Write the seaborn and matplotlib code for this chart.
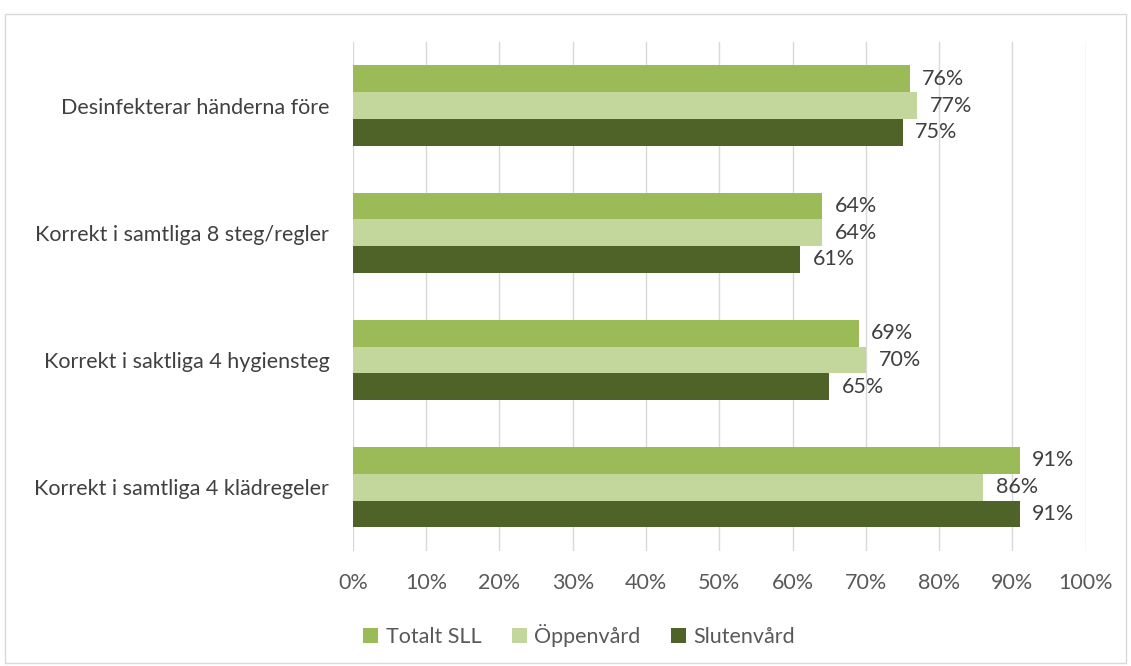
import matplotlib
matplotlib.use("Agg")
import matplotlib.pyplot as plt
import seaborn as sns
import pandas as pd
from matplotlib.patches import Rectangle

categories = ["Desinfekterar händerna före", "Korrekt i samtliga 8 steg/regler",
              "Korrekt i saktliga 4 hygiensteg", "Korrekt i samtliga 4 klädregeler"]
series = ["Totalt SLL", "Öppenvård", "Slutenvård"]
totalt = [76, 64, 69, 91]
oppen = [77, 64, 70, 86]
sluten = [75, 61, 65, 91]
colors = ["#9BBB59", "#C3D69B", "#4F6228"]
xticks = [0, 10, 20, 30, 40, 50, 60, 70, 80, 90, 100]

rows = []
for s, vals in zip(series, [totalt, oppen, sluten]):
    for c, v in zip(categories, vals):
        rows.append({"cat": c, "series": s, "value": v})
df = pd.DataFrame(rows)

sns.set_theme(style="white")
plt.rcParams['font.family'] = ['Lato', 'DejaVu Sans']

FS = 15.5
fig = plt.figure(figsize=(11.31, 6.66), dpi=100)
ax = fig.add_axes([0.312, 0.173, 0.648, 0.764])
sns.barplot(data=df, y="cat", x="value", hue="series", orient="h",
            palette=colors, width=0.63, ax=ax, legend=True, saturation=1,
            linewidth=0)

ax.set_xlim(0, 100)
ax.set_xticks(xticks)
ax.set_xticklabels([f"{t}%" for t in xticks], fontsize=FS, color="#595959")
ax.tick_params(axis="y", labelsize=FS, labelcolor="#404040", length=0, pad=17)
ax.tick_params(axis="x", length=0, pad=16)
ax.set_xlabel("")
ax.set_ylabel("")
ax.grid(axis="x", color="#D9D9D9", linewidth=1)
ax.set_axisbelow(True)
for sp in ax.spines.values():
    sp.set_visible(False)

for cont in ax.containers:
    ax.bar_label(cont, labels=[f"{v:.0f}%" for v in cont.datavalues],
                 padding=9, fontsize=FS, color="#404040")

h, l = ax.get_legend_handles_labels()
ax.get_legend().remove()
fig.legend(h, l, loc="center", bbox_to_anchor=(0.512, 0.046), ncol=3, frameon=False,
           fontsize=FS, handlelength=0.7, handleheight=0.7, handletextpad=0.35,
           columnspacing=1.4, labelcolor="#595959")

fig.patches.append(Rectangle((0.004, 0.004), 0.992, 0.975, transform=fig.transFigure,
                             fill=False, edgecolor="#D9D9D9", linewidth=1))
fig.savefig("out.png", dpi=100)
